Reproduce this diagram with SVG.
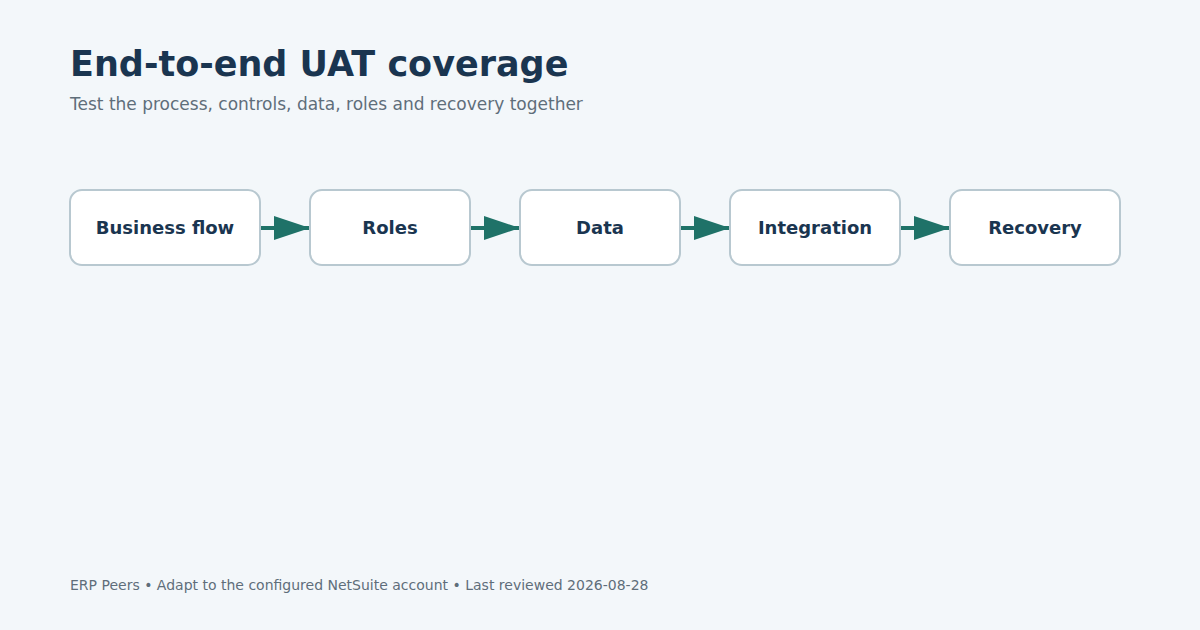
<svg xmlns="http://www.w3.org/2000/svg" width="1200" height="630" viewBox="0 0 1200 630">
<style>
.node{fill:#ffffff;stroke:#b8c8d0;stroke-width:2}
.lbl{font-family:"DejaVu Sans",sans-serif;font-weight:bold;font-size:18px;fill:#1a3550;text-anchor:middle}
.conn{stroke:#1f7268;stroke-width:4;fill:none}
</style>
<defs>
<marker id="ah" markerUnits="userSpaceOnUse" markerWidth="36" markerHeight="24" refX="36" refY="12" orient="auto">
<polygon points="0,0 36,12 0,24" fill="#1f7268"/>
</marker>
</defs>
<rect width="1200" height="630" fill="#f3f7fa"/>
<text x="70" y="76" font-family="DejaVu Sans,sans-serif" font-weight="bold" font-size="35" fill="#1a3550">End-to-end UAT coverage</text>
<text x="70" y="110" font-family="DejaVu Sans,sans-serif" font-size="17" fill="#5f6e7a">Test the process, controls, data, roles and recovery together</text>
<g id="connectors">
<line class="conn" x1="261" y1="228" x2="310" y2="228" marker-end="url(#ah)"/>
<line class="conn" x1="471" y1="228" x2="520" y2="228" marker-end="url(#ah)"/>
<line class="conn" x1="681" y1="228" x2="730" y2="228" marker-end="url(#ah)"/>
<line class="conn" x1="901" y1="228" x2="950" y2="228" marker-end="url(#ah)"/>
</g>
<g id="business-flow"><rect class="node" x="70" y="190" width="190" height="75" rx="12"/><text class="lbl" x="165" y="234">Business flow</text></g>
<g id="roles"><rect class="node" x="310" y="190" width="160" height="75" rx="12"/><text class="lbl" x="390" y="234">Roles</text></g>
<g id="data"><rect class="node" x="520" y="190" width="160" height="75" rx="12"/><text class="lbl" x="600" y="234">Data</text></g>
<g id="integration"><rect class="node" x="730" y="190" width="170" height="75" rx="12"/><text class="lbl" x="815" y="234">Integration</text></g>
<g id="recovery"><rect class="node" x="950" y="190" width="170" height="75" rx="12"/><text class="lbl" x="1035" y="234">Recovery</text></g>
<text x="70" y="590" font-family="DejaVu Sans,sans-serif" font-size="14" fill="#5f6e7a">ERP Peers • Adapt to the configured NetSuite account • Last reviewed 2026-08-28</text>
</svg>
